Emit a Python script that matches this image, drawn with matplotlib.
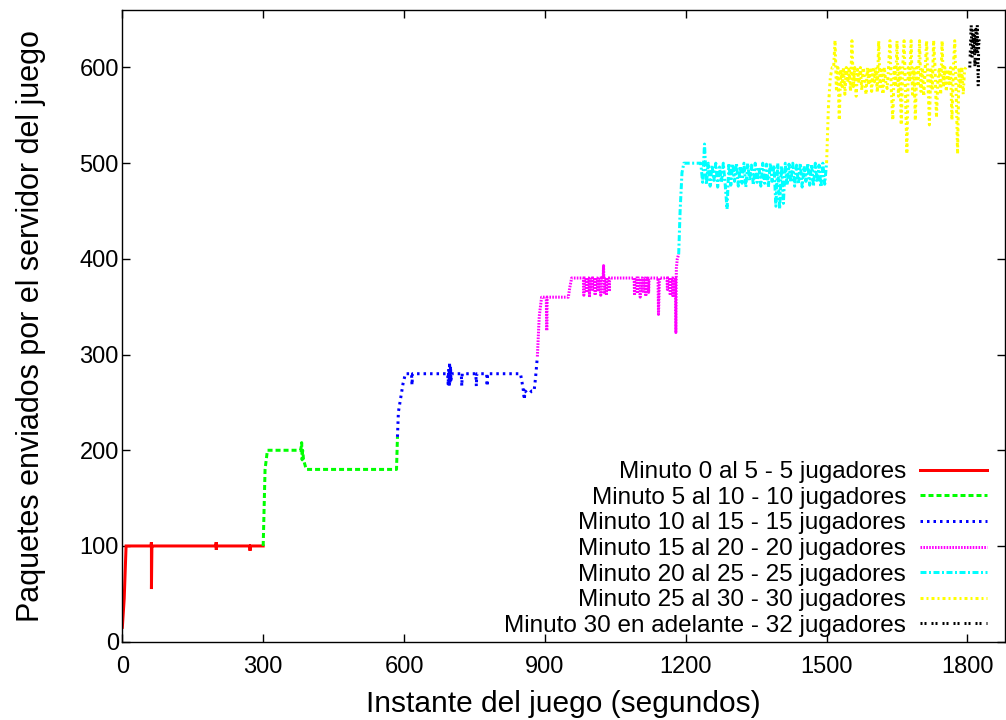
import matplotlib
matplotlib.use("Agg")
import matplotlib.pyplot as plt
import numpy as np

plt.rcParams['font.family'] = ['Liberation Sans', 'DejaVu Sans']
plt.rcParams['lines.scale_dashes'] = False

# ---------------- data ----------------
labels = [
    "Minuto 0 al 5 - 5 jugadores",
    "Minuto 5 al 10 - 10 jugadores",
    "Minuto 10 al 15 - 15 jugadores",
    "Minuto 15 al 20 - 20 jugadores",
    "Minuto 20 al 25 - 25 jugadores",
    "Minuto 25 al 30 - 30 jugadores",
    "Minuto 30 en adelante - 32 jugadores",
]

red_t = [0, 4, 8, 61, 62, 62, 63, 64, 199, 200, 200, 201, 271, 272, 273, 300]
red_v = [15, 45, 100, 100, 104, 55, 100, 100, 100, 104, 96, 100, 100, 95, 100, 100]

green_t = [300, 304, 309, 380, 382, 383, 384, 386, 390, 392, 580, 584, 586]
green_v = [100, 180, 200, 200, 208, 190, 200, 190, 183, 180, 180, 180, 214]

blue_t = [586, 588, 593, 598, 603, 616, 617, 618, 693, 694, 695, 696, 697, 698, 699, 700,
          701, 722, 723, 724, 753, 754, 755, 776, 777, 778, 848, 851, 854, 856, 858, 862,
          868, 872, 877, 880, 884]
blue_v = [214, 240, 255, 270, 280, 280, 268, 280, 280, 268, 285, 266, 292, 270, 288, 272,
          280, 280, 267, 280, 280, 267, 280, 280, 267, 280, 280, 272, 263, 253, 262, 260,
          260, 262, 262, 275, 298]

magenta_t = [884, 888, 893, 903, 904, 905, 950, 953, 957, 982, 983, 984, 988, 989, 990,
             994, 995, 996, 1000, 1001, 1002, 1006, 1007, 1008, 1012, 1013, 1014, 1018,
             1019, 1020, 1024, 1025, 1026, 1027, 1030, 1031, 1032, 1036, 1037, 1038, 1090,
             1091, 1092, 1096, 1097, 1098, 1102, 1103, 1104, 1108, 1109, 1110, 1114, 1115,
             1116, 1120, 1121, 1122, 1141, 1142, 1143, 1144, 1160, 1161, 1162, 1166, 1167,
             1168, 1172, 1173, 1174, 1178, 1179, 1180, 1182, 1185]
magenta_v = [298, 340, 360, 360, 325, 360, 360, 370, 380, 380, 362, 380, 380, 365, 380,
             380, 360, 380, 380, 368, 380, 380, 362, 380, 380, 366, 380, 380, 362, 380,
             380, 393, 365, 380, 380, 362, 380, 380, 366, 380, 380, 362, 380, 380, 364,
             380, 380, 360, 380, 380, 366, 380, 380, 361, 380, 380, 365, 380, 380, 342,
             360, 380, 380, 368, 380, 380, 362, 380, 380, 360, 380, 380, 323, 390, 400, 405]

cyan_head_t = [1185, 1188, 1192, 1196, 1228]
cyan_head_v = [405, 450, 490, 500, 500]
cyan_band_t = list(range(1232, 1500, 4))
cyan_band_v = [500, 480, 520, 478, 500, 476, 498, 482, 500, 475,
               496, 480, 500, 478, 452, 500, 477, 499, 481, 500,
               476, 497, 479, 500, 475, 500, 482, 498, 477, 500,
               480, 496, 476, 500, 479, 499, 475, 500, 481, 498,
               455, 500, 452, 497, 458, 500, 477, 499, 480, 500,
               476, 498, 478, 500, 475, 497, 481, 500, 477, 499,
               476, 500, 480, 498, 475, 500, 478]
cyan_tail_t = [1500]
cyan_tail_v = [500]

yellow_head_t = [1500, 1504, 1508, 1512]
yellow_head_v = [500, 560, 590, 600]
yellow_band_t = list(range(1515, 1800, 3))
yellow_band_v = [600, 628, 575, 600, 545, 598, 580, 600, 572, 600,
                 585, 600, 575, 628, 580, 600, 570, 598, 584, 600,
                 576, 600, 590, 572, 600, 582, 600, 575, 598, 585,
                 600, 574, 628, 580, 600, 572, 600, 585, 578, 600,
                 628, 575, 545, 600, 580, 628, 570, 600, 540, 598,
                 628, 576, 510, 600, 585, 628, 572, 600, 545, 600,
                 580, 628, 575, 600, 570, 598, 628, 582, 540, 600,
                 576, 628, 600, 548, 585, 600, 572, 628, 580, 600,
                 575, 598, 583, 600, 545, 600, 628, 575, 510, 600,
                 580, 600, 572, 598, 600]

black_t = [1805, 1808, 1810, 1812, 1813, 1815, 1816, 1818, 1820, 1821, 1823, 1824, 1826]
black_v = [600, 645, 610, 640, 620, 635, 600, 640, 615, 645, 580, 630, 625]

x_ticks = [0, 300, 600, 900, 1200, 1500, 1800]
y_ticks = [0, 100, 200, 300, 400, 500, 600]

# ---------------- plot ----------------
fig = plt.figure(figsize=(10.06, 7.2), dpi=100)
ax = fig.add_axes([0.1216, 0.1088, 0.8774, 0.8772])

px = 0.72  # points per pixel
lw = 3 * px

series = [
    (red_t, red_v, "#ff0000", None),
    (green_t, green_v, "#00ff00", (5 * px, 3 * px)),
    (blue_t, blue_v, "#0000ff", (2.5 * px, 4 * px)),
    (magenta_t, magenta_v, "#ff00ff", (1.6 * px, 1.3 * px)),
    (cyan_head_t + cyan_band_t + cyan_tail_t, cyan_head_v + cyan_band_v + cyan_tail_v,
     "#00ffff", (6 * px, 2.5 * px, 2 * px, 2.5 * px)),
    (yellow_head_t + yellow_band_t, yellow_head_v + yellow_band_v,
     "#ffff00", (3 * px, 3 * px, 2 * px, 3 * px)),
    (black_t, black_v, "#000000", (2 * px, 2 * px, 2 * px, 5 * px)),
]

for (t, v, c, d), lab in zip(series, labels):
    line, = ax.plot(t, v, color=c, lw=lw, label=lab, solid_joinstyle='miter')
    if d is not None:
        line.set_dashes(d)

ax.set_xlim(0, 1880)
ax.set_ylim(0, 660)
ax.set_xticks(x_ticks)
ax.set_yticks(y_ticks)
ax.tick_params(direction='in', length=6, width=1, labelsize=17,
               top=True, right=True)
ax.tick_params(axis='x', pad=10)
ax.tick_params(axis='y', pad=2.5)
for s in ax.spines.values():
    s.set_linewidth(1)

ax.set_xlabel("Instante del juego (segundos)", fontsize=21.5, labelpad=9)
ax.set_ylabel("Paquetes enviados por el servidor del juego", fontsize=22, labelpad=24)

leg = ax.legend(loc='lower right', bbox_to_anchor=(0.991, -0.008), frameon=False,
                fontsize=17.5, markerfirst=False, handlelength=2.75, handletextpad=0.6,
                labelspacing=0.15, borderaxespad=0.0)

fig.savefig("out.png", dpi=100)
